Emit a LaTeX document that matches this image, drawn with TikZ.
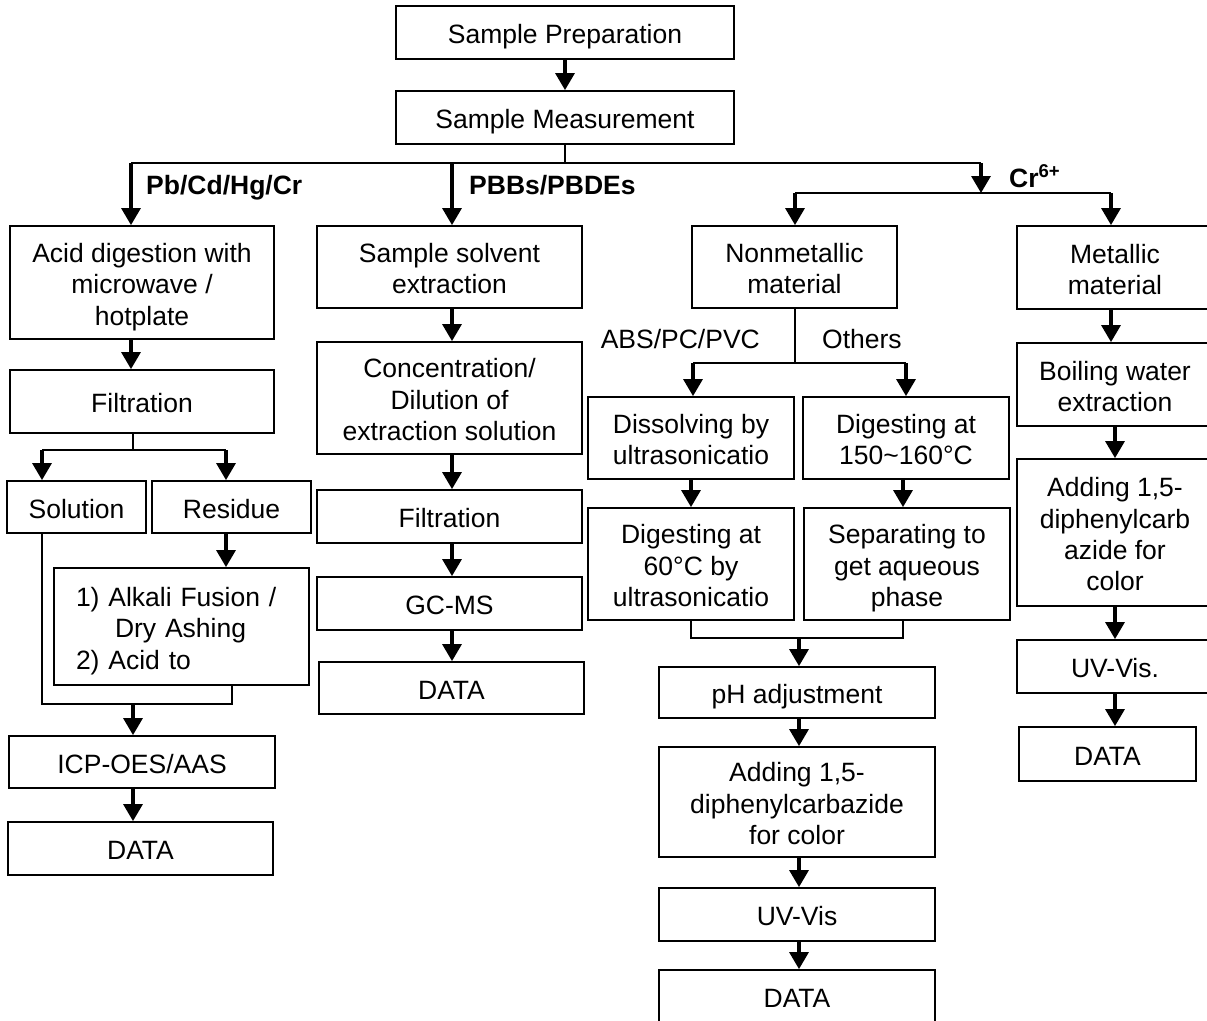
\documentclass[tikz,border=0pt]{standalone}
\usepackage{fontspec}
\setmainfont{Liberation Sans}
\usetikzlibrary{arrows.meta}
\newcommand\wdstrut{\vrule width 0pt height 1.057em depth 0.212em\relax}
\newcommand\wdend{\vrule width 0pt height 0pt depth 0.212em\relax}
\begin{document}
\begin{tikzpicture}[x=1pt,y=-1pt,
  box/.style={draw, line width=1.8pt, inner sep=0pt, align=center,
    font=\fontsize{26.5}{31.3}\selectfont},
  lbl/.style={inner sep=0pt, font=\fontsize{26.5}{31.3}\selectfont},
  blbl/.style={inner sep=0pt, font=\fontsize{26.5}{31.3}\selectfont\bfseries},
  arr/.style={line width=3.2pt, -{Triangle[width=19pt,length=17pt]}},
  hline/.style={line width=2pt},
  tline/.style={line width=1.3pt}]
\useasboundingbox (0,0) rectangle (1207,1020);
\clip (0,0) rectangle (1207,1020);
% top
\node[box, minimum width=338pt, minimum height=53pt] (prep) at (565,32.5) {\wdstrut Sample Preparation};
\node[box, minimum width=338pt, minimum height=53pt] (meas) at (565,117.5) {\wdstrut Sample Measurement};
% left column
\node[box, minimum width=264pt, minimum height=113pt] (acid) at (142,282.5) {\wdstrut Acid digestion with\\microwave /\\hotplate\wdend};
\node[box, minimum width=264pt, minimum height=63pt] (filt1) at (142,401.5) {\wdstrut Filtration};
\node[box, minimum width=139pt, minimum height=52pt] (sol) at (76.5,507) {\wdstrut Solution};
\node[box, minimum width=159pt, minimum height=52pt] (res) at (231.5,507) {\wdstrut Residue};
\node[box, minimum width=255pt, minimum height=117pt, text width=211pt, align=left] (alk) at (181.5,626.5) {\wdstrut 1) Alkali Fusion /\\\hspace*{39pt}Dry Ashing\\2) Acid to\wdend};
\node[box, minimum width=266pt, minimum height=52pt] (icp) at (142,762) {\wdstrut ICP-OES/AAS};
\node[box, minimum width=265pt, minimum height=53pt] (data1) at (140.5,848.5) {\wdstrut DATA};
% middle column
\node[box, minimum width=265pt, minimum height=82pt] (sse) at (449.5,267) {\wdstrut Sample solvent\\extraction\wdend};
\node[box, minimum width=265pt, minimum height=112pt] (conc) at (449.5,398) {\wdstrut Concentration/\\Dilution of\\extraction solution\wdend};
\node[box, minimum width=265pt, minimum height=53pt] (filt2) at (449.5,516.5) {\wdstrut Filtration};
\node[box, minimum width=265pt, minimum height=53pt] (gcms) at (449.5,603.5) {\wdstrut GC-MS};
\node[box, minimum width=265pt, minimum height=52pt] (data2) at (451.5,688) {\wdstrut DATA};
% Cr6+ nonmetallic
\node[box, minimum width=205pt, minimum height=82pt] (nonmet) at (794.5,267) {\wdstrut Nonmetallic\\material\wdend};
\node[box, minimum width=206pt, minimum height=82pt] (diss) at (691,438) {\wdstrut Dissolving by\\ultrasonicatio\wdend};
\node[box, minimum width=206pt, minimum height=82pt] (dig150) at (906,438) {\wdstrut Digesting at\\150{\char"007E}160°C\wdend};
\node[box, minimum width=206pt, minimum height=112pt] (dig60) at (691,564) {\wdstrut Digesting at\\60°C by\\ultrasonicatio\wdend};
\node[box, minimum width=206pt, minimum height=112pt] (sep) at (907,564) {\wdstrut Separating to\\get aqueous\\phase\wdend};
\node[box, minimum width=276pt, minimum height=51pt] (ph) at (797,692.5) {\wdstrut pH adjustment};
\node[box, minimum width=276pt, minimum height=110pt] (add1) at (797,802) {\wdstrut Adding 1,5-\\diphenylcarbazide\\for color\wdend};
\node[box, minimum width=276pt, minimum height=53pt] (uv1) at (797,914.5) {\wdstrut UV-Vis};
\node[box, minimum width=276pt, minimum height=53pt] (data3) at (797,996.5) {\wdstrut DATA};
% metallic
\node[box, minimum width=196pt, minimum height=83pt] (metal) at (1115,267.5) {\wdstrut Metallic\\material\wdend};
\node[box, minimum width=196pt, minimum height=83pt] (boil) at (1115,384.5) {\wdstrut Boiling water\\extraction\wdend};
\node[box, minimum width=196pt, minimum height=147pt] (add2) at (1115,532.5) {\wdstrut Adding 1,5-\\diphenylcarb\\azide for\\color\wdend};
\node[box, minimum width=196pt, minimum height=53pt] (uv2) at (1115,666.5) {\wdstrut UV-Vis.};
\node[box, minimum width=177pt, minimum height=54pt] (data4) at (1107.5,754) {\wdstrut DATA};
% labels
\node[blbl, anchor=base west] (lpb) at (146,194) {Pb/Cd/Hg/Cr};
\node[blbl, anchor=base west] (lpbb) at (469,194) {PBBs/PBDEs};
\node[blbl, anchor=base west] (lcr) at (1009,187) {Cr\textsuperscript{6+}};
\node[lbl, anchor=base east] (labs) at (760,348) {ABS/PC/PVC};
\node[lbl, anchor=base west] (loth) at (822,348) {Others};
% coordinates
\coordinate (j1) at (565,163);
\coordinate (j1a) at (131,163);
\coordinate (j1b) at (452,163);
\coordinate (j1c) at (981,163);
\coordinate (j2) at (981,193);
\coordinate (j2a) at (795,193);
\coordinate (j2b) at (1111,193);
\coordinate (j3) at (133,450);
\coordinate (j3a) at (42,450);
\coordinate (j3b) at (226,450);
\coordinate (j4) at (133,704);
\coordinate (j4a) at (42,704);
\coordinate (j4b) at (232,704);
\coordinate (j5) at (795,363);
\coordinate (j5a) at (693,363);
\coordinate (j5b) at (906,363);
\coordinate (j6) at (799,638);
\coordinate (j6a) at (691,638);
\coordinate (j6b) at (903,638);
% connectors
\draw[arr] (prep.south) -- (meas.north);
\draw[tline] (meas.south) -- (j1);
\draw[hline] (j1a) -- (j1c);
\draw[arr] (j1a) -- (j1a |- acid.north);
\draw[arr] (j1b) -- (j1b |- sse.north);
\draw[arr] (j1c) -- (j2);
\draw[hline] (j2a) -- (j2b);
\draw[arr] (j2a) -- (j2a |- nonmet.north);
\draw[arr] (j2b) -- (j2b |- metal.north);
% left
\draw[arr] (acid.south -| j1a) -- (filt1.north -| j1a);
\draw[tline] (filt1.south -| j3) -- (j3);
\draw[hline] (j3a) -- (j3b);
\draw[arr] (j3a) -- (j3a |- sol.north);
\draw[arr] (j3b) -- (j3b |- res.north);
\draw[arr] (res.south -| j3b) -- (alk.north -| j3b);
\draw[tline] (sol.south -| j4a) -- (j4a) -- (j4b) -- (alk.south -| j4b);
\draw[arr] (j4) -- (icp.north -| j4);
\draw[arr] (icp.south -| j4) -- (data1.north -| j4);
% middle
\draw[arr] (sse.south -| j1b) -- (conc.north -| j1b);
\draw[arr] (conc.south -| j1b) -- (filt2.north -| j1b);
\draw[arr] (filt2.south -| j1b) -- (gcms.north -| j1b);
\draw[arr] (gcms.south -| j1b) -- (data2.north -| j1b);
% nonmetallic
\draw[tline] (nonmet.south -| j5) -- (j5);
\draw[hline] (j5a) -- (j5b);
\draw[arr] (j5a) -- (j5a |- diss.north);
\draw[arr] (j5b) -- (j5b |- dig150.north);
\draw[arr] (diss.south -| j6a) -- (dig60.north -| j6a);
\draw[arr] (dig150.south -| j6b) -- (sep.north -| j6b);
\draw[tline] (dig60.south -| j6a) -- (j6a) -- (j6b) -- (sep.south -| j6b);
\draw[arr] (j6) -- (ph.north -| j6);
\draw[arr] (ph.south -| j6) -- (add1.north -| j6);
\draw[arr] (add1.south -| j6) -- (uv1.north -| j6);
\draw[arr] (uv1.south -| j6) -- (data3.north -| j6);
% metallic
\draw[arr] (metal.south -| j2b) -- (boil.north -| j2b);
\draw[arr] (boil.south) -- (add2.north);
\draw[arr] (add2.south) -- (add2.south |- uv2.north);
\draw[arr] (uv2.south) -- (uv2.south |- data4.north);
\end{tikzpicture}
\end{document}
